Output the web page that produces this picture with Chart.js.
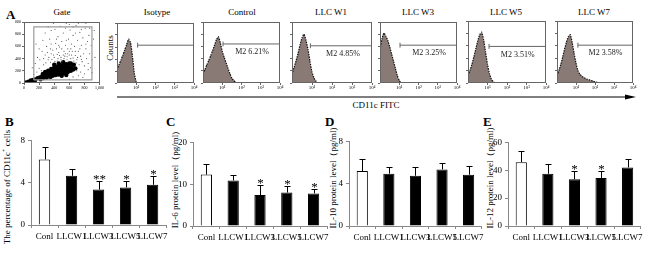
<!DOCTYPE html>
<html lang="en">
<head>
<meta charset="UTF-8">
<title>CD11c+ cells and cytokines</title>
<script src="https://cdn.jsdelivr.net/npm/chart.js"></script>
<style>
  body { margin: 0; background: #fff; }
  #fig { position: relative; width: 650px; height: 253px; overflow: hidden; background: #fff;
         font-family: "Liberation Serif", "Times New Roman", serif; color: #000; }
  #fig canvas { position: absolute; }
  .t { position: absolute; white-space: nowrap; font-size: 9px; line-height: 1; transform: translate(-50%, -50%); }
  .rot { transform: translate(-50%, -50%) rotate(-90deg); }
  .lbl { position: absolute; font-weight: bold; font-size: 13px; line-height: 1; }
  sup { font-size: 6px; vertical-align: 4px; line-height: 0; }
</style>
</head>
<body>
<div id="fig">
  <span class="lbl" style="left:6px;top:8px">A</span>
  <span class="lbl" style="left:5px;top:115px">B</span>
  <span class="lbl" style="left:166px;top:115px">C</span>
  <span class="lbl" style="left:325px;top:115px">D</span>
  <span class="lbl" style="left:483px;top:115px">E</span>

  <span class="t" style="left:62px;top:12px">Gate</span>
  <span class="t" style="left:157px;top:12px">Isotype</span>
  <span class="t" style="left:242px;top:12px">Control</span>
  <span class="t" style="left:331px;top:12px">LLC W1</span>
  <span class="t" style="left:418px;top:12px">LLC W3</span>
  <span class="t" style="left:506px;top:12px">LLC W5</span>
  <span class="t" style="left:594px;top:12px">LLC W7</span>
  <span class="t rot" style="left:110px;top:48px">Counts</span>
  <span class="t" style="left:376px;top:105px">CD11c FITC</span>

  <span class="t rot" style="left:7px;top:187px">The percentage of CD11c<sup>+</sup> cells</span>
  <span class="t rot" style="left:175px;top:180px">IL-6 protein level（pg/ml)</span>
  <span class="t rot" style="left:333px;top:178px">IL-10 protein level（pg/ml)</span>
  <span class="t rot" style="left:490px;top:178px">IL-12 protein level（pg/ml)</span>

  <svg style="position:absolute;left:0;top:0" width="650" height="253">
    <line x1="117" y1="97" x2="628" y2="97" stroke="#000" stroke-width="1.2"/>
    <polygon points="636,97 625,94.5 625,99.5" fill="#000"/>
  </svg>
</div>

<script>
// ---- bar panels B-E ----
const groups = ['Conl', 'LLCW1', 'LLCW3', 'LLCW5', 'LLCW7'];

const cd11cMean = [6.2, 4.65, 3.35, 3.55, 3.8];
const cd11cErrTop = [7.4, 5.3, 4.2, 4.2, 4.65];
const cd11cSig = ['', '', '**', '*', '*'];

const il6Mean = [12.3, 10.9, 7.4, 8.0, 7.8];
const il6ErrTop = [14.9, 12.2, 9.8, 9.5, 8.9];
const il6Sig = ['', '', '*', '*', '*'];

const il10Mean = [5.2, 4.95, 4.75, 5.35, 4.85];
const il10ErrTop = [6.35, 5.55, 5.55, 5.95, 5.65];
const il10Sig = ['', '', '', '', ''];

const il12Mean = [45.8, 37.5, 33.5, 34.5, 42];
const il12ErrTop = [53.8, 44.7, 39.8, 39.8, 47.8];
const il12Sig = ['', '', '*', '*', ''];

// ---- flow histograms (x in log10 units, counts in % of axis) ----
const histBins = [0, 0.1, 0.2, 0.3, 0.4, 0.5, 0.6, 0.7, 0.8, 0.9, 1.0, 1.1, 1.2,
                  1.3, 1.4, 1.5, 1.6, 1.7, 1.8, 1.9, 2.0, 2.1, 2.2, 2.3, 2.4, 2.5];
const isotypeCounts = [22, 30, 38, 46, 55, 64, 73, 68, 45, 16, 2, 0, 0, 0, 0, 0, 0, 0, 0, 0, 0, 0, 0, 0, 0, 0];
const controlCounts = [15, 22, 30, 37, 45, 53, 62, 71, 76, 66, 52, 42, 33, 24, 15, 8, 4, 1, 0, 0, 0, 0, 0, 0, 0, 0];
const w1Counts = [14, 25, 36, 48, 62, 74, 80, 70, 55, 35, 18, 8, 3, 0, 0, 0, 0, 0, 0, 0, 0, 0, 0, 0, 0, 0];
const w3Counts = [55, 72, 82, 77, 70, 60, 48, 36, 24, 12, 4, 0, 0, 0, 0, 0, 0, 0, 0, 0, 0, 0, 0, 0, 0, 0];
const w5Counts = [12, 20, 30, 42, 55, 68, 78, 82, 70, 50, 30, 15, 6, 2, 0, 0, 0, 0, 0, 0, 0, 0, 0, 0, 0, 0];
const w7Counts = [12, 20, 30, 42, 55, 66, 75, 78, 65, 48, 32, 20, 14, 11, 9, 7, 6, 5, 4, 3, 2, 1, 0, 0, 0, 0];

const m2Text = ['', 'M2 6.21%', 'M2 4.85%', 'M2 3.25%', 'M2 3.51%', 'M2 3.58%'];
const m2Start = [1.07, 1.04, 0.92, 1.04, 1.08, 1.1];
const m2Level = [63, 64, 61, 62, 59, 61];
const logTickLabels = ['10¹', '10²', '10³', '10⁴'];

// ---- gate dot plot (FSC / SSC) ----
const gateDense = [[40,10],[20,5],[60,20],[90,40],[100,20],[120,50],[140,30],[150,60],[180,80],[210,90],
  [220,60],[240,110],[260,80],[270,120],[250,150],[280,180],[300,140],[300,90],[330,150],[340,110],
  [350,100],[360,170],[380,120],[390,180],[400,160],[420,130],[420,190],[440,160],[450,200],[460,140],
  [480,170],[480,210],[500,150],[500,120],[510,220],[520,190],[540,160],[540,230],[560,130],[560,200],
  [570,240],[580,180],[600,250],[620,200],[630,260],[650,220],[680,240],[320,200],[360,230],[380,210],
  [400,250],[420,230],[440,270],[460,240],[480,290],[500,250],[520,300],[540,260],[560,310],[580,280],
  [600,320],[400,300],[460,320],[520,340],[620,320],[660,300]];
const gateSparse = [[150,320],[180,420],[210,380],[240,520],[260,300],[280,460],[300,600],[320,380],[340,720],
  [360,480],[380,540],[400,420],[410,880],[420,650],[440,360],[450,760],[460,500],[470,590],[480,930],
  [490,420],[500,680],[510,360],[520,820],[530,520],[540,440],[550,620],[560,980],[570,380],[580,560],
  [590,720],[600,460],[610,870],[620,400],[630,640],[640,520],[650,780],[660,360],[670,600],[680,450],
  [690,940],[700,380],[710,700],[720,520],[730,300],[740,830],[750,440],[760,620],[770,350],[780,740],
  [790,480],[800,280],[810,900],[820,560],[830,400],[840,680],[850,320],[860,780],[870,480],[880,250],
  [890,620],[700,200],[750,180],[800,150],[850,220],[900,170],[720,120],[780,90],[650,100],[600,60],
  [700,60],[200,240],[230,200],[170,180],[130,140],[110,250],[250,700],[280,820],[320,920],[360,640],
  [390,980],[430,560],[550,900],[600,960],[650,920],[720,980],[760,880],[820,980],[870,900],[920,720],
  [940,420],[930,860],[200,560],[160,640],[360,860],[430,720],[500,560],[580,480],[620,560],[680,820],
  [740,560],[820,640],[900,380],[330,420],[370,390],[410,350],[450,400],[490,380],[530,400],[570,430],
  [610,350],[650,410],[690,330],[290,330],[350,340],[470,450],[550,480],[630,460],[710,420],[760,390],
  [260,400],[310,500],[440,470],[520,460],[600,520],[680,520],[390,460],[350,560],[460,620],[560,700]];
const gateRectX = [130, 900, 900, 130, 130];
const gateRectY = [50, 50, 920, 920, 50];

Chart.defaults.color = '#000';
Chart.defaults.font.family = '"Liberation Serif", "Times New Roman", serif';

const fig = document.getElementById('fig');

function addCanvas(left, top, w, h) {
  const c = document.createElement('canvas');
  c.width = w; c.height = h;
  c.style.left = left + 'px'; c.style.top = top + 'px';
  c.style.width = w + 'px'; c.style.height = h + 'px';
  fig.appendChild(c);
  return c;
}

const framePlugin = {
  id: 'frame',
  afterDraw(chart) {
    const a = chart.chartArea, ctx = chart.ctx;
    ctx.save();
    ctx.strokeStyle = '#666';
    ctx.lineWidth = 1;
    ctx.strokeRect(Math.round(a.left) + 0.5, Math.round(a.top) + 0.5, Math.round(a.width) - 1, Math.round(a.height) - 1);
    ctx.restore();
  }
};

function errorBars(errTop, sig) {
  return {
    id: 'errbars',
    afterDatasetsDraw(chart) {
      const ctx = chart.ctx, ys = chart.scales.y;
      ctx.save();
      ctx.strokeStyle = '#000';
      ctx.lineWidth = 1;
      ctx.fillStyle = '#000';
      ctx.font = '13px "Liberation Serif"';
      ctx.textAlign = 'center';
      chart.getDatasetMeta(0).data.forEach((bar, i) => {
        const x = Math.round(bar.x) + 0.5;
        const yt = Math.round(ys.getPixelForValue(errTop[i])) + 0.5;
        ctx.beginPath();
        ctx.moveTo(x, bar.y);
        ctx.lineTo(x, yt);
        ctx.moveTo(x - 3, yt);
        ctx.lineTo(x + 3, yt);
        ctx.stroke();
        if (sig[i]) ctx.fillText(sig[i], x, yt + 1);
      });
      ctx.restore();
    }
  };
}

function barPanel(area, yMax, yStep, means, errTop, sig) {
  const yW = 22, xH = 20;
  const left = area.l - yW, top = area.t - 6;
  const cv = addCanvas(left, top, area.r + 4 - left, area.b + xH + 4 - top);
  new Chart(cv, {
    type: 'bar',
    data: {
      labels: groups,
      datasets: [{
        data: means,
        backgroundColor: means.map((_, i) => i === 0 ? '#fff' : '#000'),
        borderColor: '#000',
        borderWidth: 1,
        barPercentage: 0.42,
        categoryPercentage: 1
      }]
    },
    options: {
      responsive: false,
      animation: false,
      layout: { padding: { top: 6, right: 4, bottom: 4, left: 0 } },
      plugins: { legend: { display: false }, tooltip: { enabled: false } },
      scales: {
        x: {
          grid: { drawOnChartArea: false, tickLength: 3, color: '#888', offset: true },
          border: { color: '#888' },
          ticks: { autoSkip: false, maxRotation: 0, minRotation: 0, padding: 3, font: { size: 9 } },
          afterFit: s => { s.height = xH; }
        },
        y: {
          min: 0, max: yMax,
          ticks: { stepSize: yStep, padding: 3, font: { size: 9 } },
          grid: { drawOnChartArea: false, tickLength: 3, color: '#888' },
          border: { color: '#888' },
          afterFit: s => { s.width = yW; }
        }
      }
    },
    plugins: [errorBars(errTop, sig)]
  });
}

barPanel({ l: 31, t: 138, r: 167, b: 225 }, 8, 4, cd11cMean, cd11cErrTop, cd11cSig);
barPanel({ l: 193, t: 140, r: 328, b: 226 }, 20, 10, il6Mean, il6ErrTop, il6Sig);
barPanel({ l: 349, t: 139, r: 483, b: 226 }, 8, 4, il10Mean, il10ErrTop, il10Sig);
barPanel({ l: 508, t: 140, r: 642, b: 226 }, 60, 20, il12Mean, il12ErrTop, il12Sig);

// ---- histograms ----
const histBoxes = [
  { l: 117, r: 194, t: 23, b: 83 },
  { l: 203, r: 280, t: 22, b: 83 },
  { l: 292, r: 372, t: 22, b: 83 },
  { l: 380, r: 457, t: 22, b: 83 },
  { l: 468, r: 546, t: 21, b: 83 },
  { l: 557, r: 633, t: 21, b: 83 }
];
const histCounts = [isotypeCounts, controlCounts, w1Counts, w3Counts, w5Counts, w7Counts];

function histPanel(box, counts, i) {
  const yW = 4, xH = 10;
  const cv = addCanvas(box.l - yW, box.t - 2, box.r - box.l + yW + 4, box.b - box.t + xH + 4);
  const m2Label = {
    id: 'm2label',
    afterDatasetsDraw(chart) {
      if (!m2Text[i]) return;
      const ctx = chart.ctx;
      ctx.save();
      ctx.fillStyle = '#222';
      ctx.font = '8px "Liberation Serif"';
      ctx.textAlign = 'center';
      ctx.textBaseline = 'middle';
      ctx.fillText(m2Text[i], chart.scales.x.getPixelForValue(2.55), chart.scales.y.getPixelForValue(m2Level[i]) + 8);
      ctx.restore();
    }
  };
  new Chart(cv, {
    type: 'line',
    data: {
      datasets: [
        {
          data: histBins.map((b, k) => ({ x: b, y: counts[k] })),
          fill: 'origin',
          backgroundColor: '#8a7a76',
          borderColor: '#111',
          borderWidth: 1.2,
          borderDash: [1.5, 1],
          pointRadius: 0,
          tension: 0.15
        },
        {
          data: [{ x: m2Start[i], y: m2Level[i] }, { x: 4, y: m2Level[i] }],
          borderColor: '#666', borderWidth: 1, pointRadius: 0, fill: false
        },
        {
          data: [{ x: m2Start[i], y: m2Level[i] - 4 }, { x: m2Start[i], y: m2Level[i] + 4 }],
          borderColor: '#666', borderWidth: 1, pointRadius: 0, fill: false
        }
      ]
    },
    options: {
      responsive: false,
      animation: false,
      layout: { padding: { top: 2, right: 4, bottom: 2, left: 0 } },
      plugins: { legend: { display: false }, tooltip: { enabled: false } },
      scales: {
        x: {
          type: 'linear', min: 0, max: 4,
          afterBuildTicks: s => { s.ticks = [1, 2, 3, 4].map(v => ({ value: v })); },
          ticks: { padding: 0, font: { size: 5 }, callback: v => logTickLabels[v - 1] },
          grid: { drawOnChartArea: false, tickLength: 2, color: '#666' },
          border: { display: false },
          afterFit: s => { s.height = xH; }
        },
        y: {
          min: 0, max: 100,
          ticks: { display: false, stepSize: 20 },
          grid: { drawOnChartArea: false, tickLength: 2, color: '#666' },
          border: { display: false },
          afterFit: s => { s.width = yW; }
        }
      }
    },
    plugins: [framePlugin, m2Label]
  });
}

histBoxes.forEach((box, i) => histPanel(box, histCounts[i], i));

// ---- gate dot plot ----
(function () {
  const box = { l: 24, r: 101, t: 20, b: 83 };
  const yW = 9, xH = 9;
  const cv = addCanvas(box.l - yW, box.t - 2, box.r - box.l + yW + 4, box.b - box.t + xH + 4);
  new Chart(cv, {
    type: 'scatter',
    data: {
      datasets: [
        {
          data: gateRectX.map((x, k) => ({ x: x, y: gateRectY[k] })),
          showLine: true, borderColor: '#999', borderWidth: 1.2, pointRadius: 0, fill: false
        },
        {
          data: gateSparse.map(p => ({ x: p[0], y: p[1] })),
          pointRadius: 0.55, backgroundColor: '#444', borderWidth: 0
        },
        {
          data: gateDense.map(p => ({ x: p[0], y: p[1] })),
          pointRadius: 2.2, backgroundColor: '#000', borderWidth: 0
        }
      ]
    },
    options: {
      responsive: false,
      animation: false,
      layout: { padding: { top: 2, right: 4, bottom: 2, left: 0 } },
      plugins: { legend: { display: false }, tooltip: { enabled: false } },
      scales: {
        x: {
          min: 0, max: 1000,
          ticks: { stepSize: 200, padding: 1, font: { size: 4 }, autoSkip: false, maxRotation: 0 },
          grid: { drawOnChartArea: false, tickLength: 2, color: '#666' },
          border: { display: false },
          afterFit: s => { s.height = xH; }
        },
        y: {
          min: 0, max: 1000,
          ticks: { stepSize: 200, padding: 1, font: { size: 4 }, autoSkip: false },
          grid: { drawOnChartArea: false, tickLength: 2, color: '#666' },
          border: { display: false },
          afterFit: s => { s.width = yW; }
        }
      }
    },
    plugins: [framePlugin]
  });
})();
</script>
</body>
</html>
